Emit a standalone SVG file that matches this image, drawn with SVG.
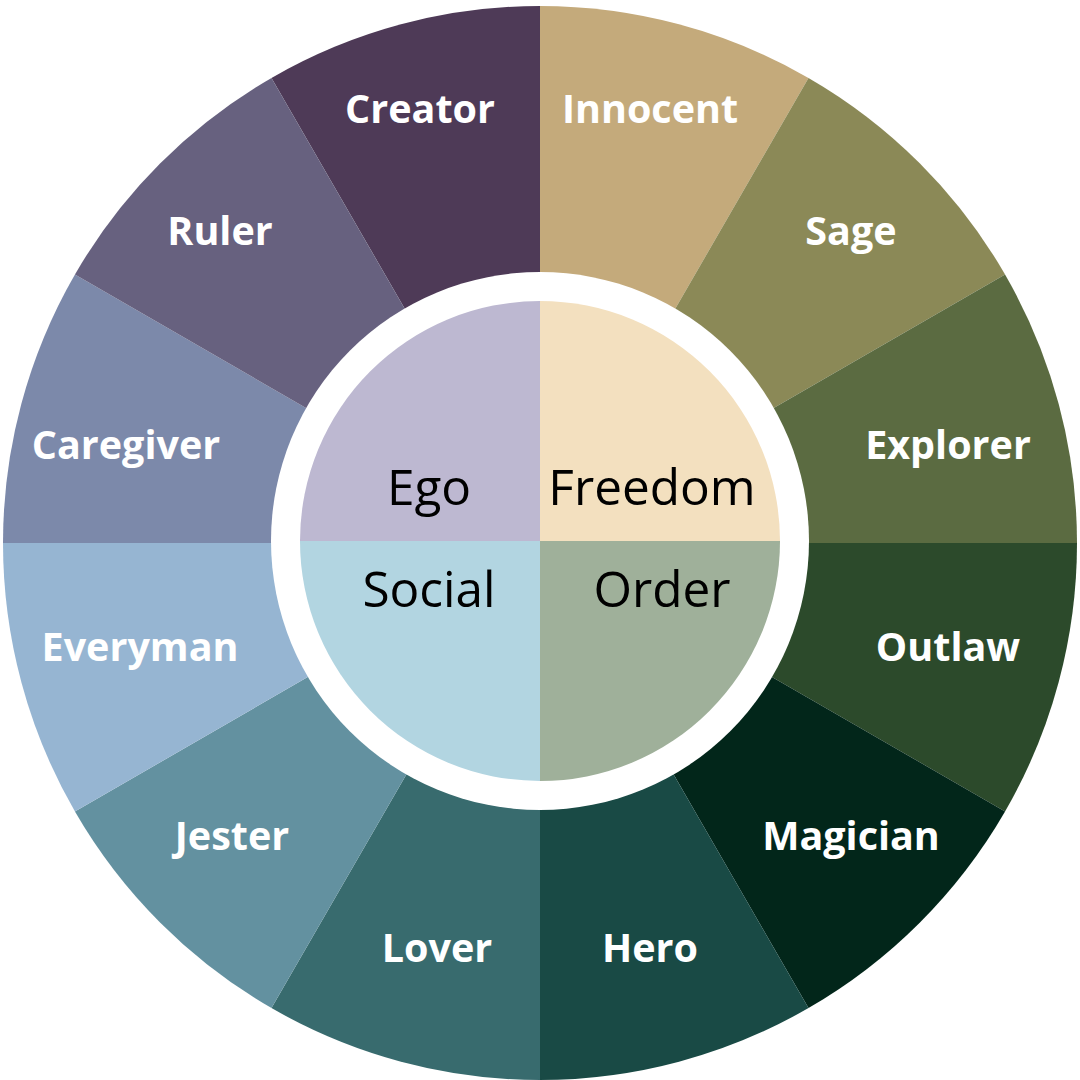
<svg xmlns="http://www.w3.org/2000/svg" width="1080" height="1080" viewBox="0 0 1080 1080">
<style>
.lbl{font-family:"Open Sans","Liberation Sans",sans-serif;font-weight:700;font-size:39.5px;fill:#ffffff;text-anchor:middle}
.in{font-family:"Open Sans","Liberation Sans",sans-serif;font-weight:400;font-size:49.5px;fill:#000000;text-anchor:middle}
</style>
<rect width="1080" height="1080" fill="#ffffff"/>
<g id="creator"><path d="M540 543 L271.5 77.94 A537 537 0 0 1 540 6 Z" fill="#4E3A57"/><text class="lbl" x="420" y="123">Creator</text></g>
<g id="innocent"><path d="M540 543 L540 6 A537 537 0 0 1 808.5 77.94 Z" fill="#C4AA7B"/><text class="lbl" x="650" y="123">Innocent</text></g>
<g id="sage"><path d="M540 543 L808.5 77.94 A537 537 0 0 1 1005.06 274.5 Z" fill="#8B8957"/><text class="lbl" x="851" y="245">Sage</text></g>
<g id="explorer"><path d="M540 543 L1005.06 274.5 A537 537 0 0 1 1077 543 Z" fill="#5B6B41"/><text class="lbl" x="948" y="459">Explorer</text></g>
<g id="outlaw"><path d="M540 543 L1077 543 A537 537 0 0 1 1005.06 811.5 Z" fill="#2C4A2B"/><text class="lbl" x="948" y="661">Outlaw</text></g>
<g id="magician"><path d="M540 543 L1005.06 811.5 A537 537 0 0 1 808.5 1008.06 Z" fill="#02261A"/><text class="lbl" x="851" y="850">Magician</text></g>
<g id="hero"><path d="M540 543 L808.5 1008.06 A537 537 0 0 1 540 1080 Z" fill="#194A45"/><text class="lbl" x="650" y="962">Hero</text></g>
<g id="lover"><path d="M540 543 L540 1080 A537 537 0 0 1 271.5 1008.06 Z" fill="#386B6E"/><text class="lbl" x="437" y="962">Lover</text></g>
<g id="jester"><path d="M540 543 L271.5 1008.06 A537 537 0 0 1 74.94 811.5 Z" fill="#6391A0"/><text class="lbl" x="232" y="850">Jester</text></g>
<g id="everyman"><path d="M540 543 L74.94 811.5 A537 537 0 0 1 3 543 Z" fill="#96B5D2"/><text class="lbl" x="140" y="661">Everyman</text></g>
<g id="caregiver"><path d="M540 543 L3 543 A537 537 0 0 1 74.94 274.5 Z" fill="#7C89AA"/><text class="lbl" x="126" y="459">Caregiver</text></g>
<g id="ruler"><path d="M540 543 L74.94 274.5 A537 537 0 0 1 271.5 77.94 Z" fill="#67617F"/><text class="lbl" x="220" y="245">Ruler</text></g>
<circle cx="540" cy="541" r="269" fill="#ffffff"/>
<g id="ego"><path d="M540 541 L300 541 A240 240 0 0 1 540 301 Z" fill="#BDB8D1"/><text class="in" x="429" y="505">Ego</text></g>
<g id="freedom"><path d="M540 541 L540 301 A240 240 0 0 1 780 541 Z" fill="#F3E0BF"/><text class="in" x="652" y="505">Freedom</text></g>
<g id="social"><path d="M540 541 L540 781 A240 240 0 0 1 300 541 Z" fill="#B2D5E1"/><text class="in" x="429" y="607">Social</text></g>
<g id="order"><path d="M540 541 L780 541 A240 240 0 0 1 540 781 Z" fill="#9FB09A"/><text class="in" x="662" y="607">Order</text></g>
<g id="connectors"></g>
</svg>
